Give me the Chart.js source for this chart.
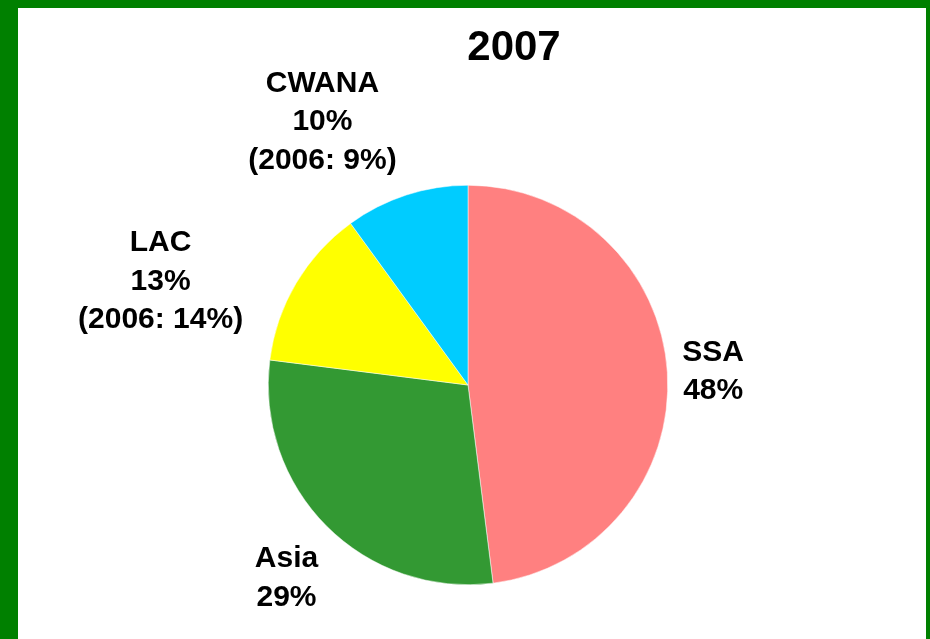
<!DOCTYPE html>
<html>
<head>
<meta charset="utf-8">
<script src="https://cdn.jsdelivr.net/npm/chart.js@4/dist/chart.umd.min.js"></script>
<style>
  html, body { margin: 0; padding: 0; background: #fff; }
  #frame { position: absolute; left: 0; top: 0; width: 930px; height: 639px; box-sizing: border-box;
           border-left: 18px solid #008000; border-top: 8px solid #008000; border-right: 4px solid #008000; background: #fff; }
  #c { position: absolute; left: 0; top: 0; }
</style>
</head>
<body>
<div id="frame"></div>
<canvas id="c" width="930" height="639"></canvas>
<script>
const chartTitle = '2007';
const categories = ['SSA', 'Asia', 'LAC', 'CWANA'];
const shares2007 = [48, 29, 13, 10];
const shares2006 = [null, null, 14, 9];
const sliceColors = ['#FF8080', '#339933', '#FFFF00', '#00CCFF'];

const FONT = '"Liberation Sans", Arial, sans-serif';

const labelPlugin = {
  id: 'sliceLabels',
  afterDatasetsDraw(chart, args, opts) {
    const ctx = chart.ctx;
    const meta = chart.getDatasetMeta(0);
    ctx.save();
    ctx.fillStyle = '#000';
    // title
    ctx.font = 'bold 42px ' + FONT;
    ctx.textAlign = 'center';
    ctx.textBaseline = 'middle';
    ctx.fillText(chartTitle, opts.titleX, opts.titleY);

    ctx.font = 'bold 30px ' + FONT;
    const lineH = 38.5;
    meta.data.forEach((arc, i) => {
      const lines = [categories[i], shares2007[i] + '%'];
      if (shares2006[i] !== null) lines.push('(2006: ' + shares2006[i] + '%)');
      const mid = (arc.startAngle + arc.endAngle) / 2;
      const dx = Math.cos(mid), dy = Math.sin(mid);
      const r = arc.outerRadius + opts.gap;
      const px = arc.x + dx * r, py = arc.y + dy * r;
      const w = Math.max(...lines.map(l => ctx.measureText(l).width));
      const h = lines.length * lineH;
      let cx, cy;
      cx = dx >= 0 ? px + w / 2 : px - w / 2;
      if (Math.abs(dy) < 0.6) cy = py;
      else cy = dy > 0 ? py + h / 2 : py - h / 2;
      const n = opts.nudge[i] || [0, 0];
      cx += n[0]; cy += n[1];
      lines.forEach((l, k) => {
        ctx.fillText(l, cx, cy - h / 2 + lineH * (k + 0.5));
      });
    });
    ctx.restore();
  }
};

new Chart(document.getElementById('c'), {
  type: 'pie',
  data: {
    labels: categories,
    datasets: [{
      data: shares2007,
      backgroundColor: sliceColors,
      borderColor: '#ffffff',
      borderWidth: 0.5
    }]
  },
  options: {
    responsive: false,
    animation: false,
    events: [],
    layout: { padding: { left: 268, right: 262, top: 185, bottom: 54 } },
    plugins: {
      legend: { display: false },
      tooltip: { enabled: false },
      title: { display: false },
      sliceLabels: {
        titleX: 514, titleY: 48, gap: 15,
        nudge: [[0, 0], [2, 3], [-40, 6], [-5, -1]]
      }
    }
  },
  plugins: [labelPlugin]
});
</script>
</body>
</html>
